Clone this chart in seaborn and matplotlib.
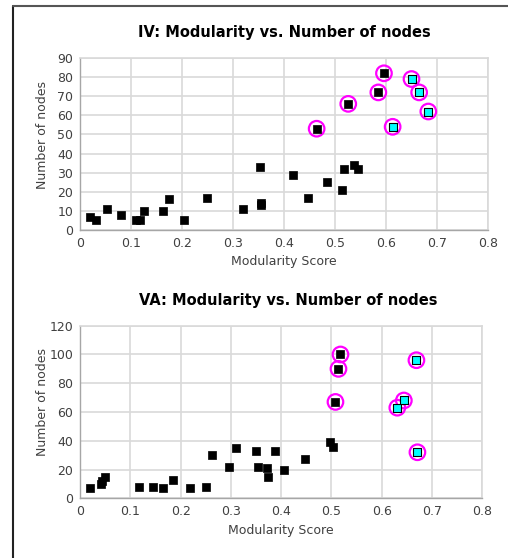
import matplotlib
matplotlib.use("Agg")
import matplotlib.pyplot as plt
import seaborn as sns
import pandas as pd
from matplotlib.lines import Line2D

# ---- IV data ----
iv_x = [0.020, 0.031, 0.052, 0.080, 0.110, 0.118, 0.125, 0.163, 0.174, 0.203,
        0.249, 0.320, 0.353, 0.355, 0.355, 0.418, 0.448, 0.485, 0.513, 0.518,
        0.538, 0.545]
iv_y = [7, 5, 11, 8, 5, 5, 10, 10, 16, 5,
        17, 11, 33, 14, 13, 29, 17, 25, 21, 32,
        34, 32]
iv_hi_x = [0.464, 0.526, 0.585, 0.596]
iv_hi_y = [53, 66, 72, 82]
iv_cy_x = [0.613, 0.650, 0.665, 0.683]
iv_cy_y = [54, 79, 72, 62]

# ---- VA data ----
va_x = [0.020, 0.041, 0.044, 0.049, 0.118, 0.146, 0.165, 0.184, 0.218, 0.250,
        0.262, 0.296, 0.311, 0.349, 0.353, 0.372, 0.373, 0.388, 0.406, 0.447,
        0.498, 0.504]
va_y = [7, 10, 12, 15, 8, 8, 7, 13, 7, 8,
        30, 22, 35, 33, 22, 21, 15, 33, 20, 27,
        39, 36]
va_hi_x = [0.508, 0.514, 0.518]
va_hi_y = [67, 90, 100]
va_cy_x = [0.631, 0.644, 0.669, 0.671]
va_cy_y = [63, 68, 96, 32]

titles = ["IV: Modularity vs. Number of nodes", "VA: Modularity vs. Number of nodes"]
xlabel = "Modularity Score"
ylabel = "Number of nodes"
x_ticks = [0, 0.1, 0.2, 0.3, 0.4, 0.5, 0.6, 0.7, 0.8]
x_tick_labels = ["0", "0.1", "0.2", "0.3", "0.4", "0.5", "0.6", "0.7", "0.8"]
iv_yticks = [0, 10, 20, 30, 40, 50, 60, 70, 80, 90]
va_yticks = [0, 20, 40, 60, 80, 100, 120]

sns.set_theme(style="white")
plt.rcParams['font.family'] = ['DejaVu Sans']

fig = plt.figure(figsize=(5.08, 5.58), dpi=100)
fig.patch.set_facecolor("white")

ax1 = fig.add_axes([80/508, 1-230/558, 408/508, 172/558])
ax2 = fig.add_axes([80/508, 1-498.3/558, 402.3/508, 172.6/558])

GRID = "#d9d9d9"
TXT = "#404040"

def draw(ax, x, y, hx, hy, cx, cy, yticks, title, title_xy, ylab_y):
    circ_x = hx + cx
    circ_y = hy + cy
    sns.scatterplot(x=circ_x, y=circ_y, ax=ax, marker="o", s=125,
                    facecolor="none", edgecolor="#ff00ff", linewidth=1.6, zorder=3)
    sns.scatterplot(x=x + hx, y=y + hy, ax=ax, marker="s", s=38,
                    color="black", edgecolor="black", linewidth=0.5, zorder=4)
    sns.scatterplot(x=cx, y=cy, ax=ax, marker="s", s=38,
                    color="#00ffff", edgecolor="black", linewidth=0.8, zorder=4)
    ax.set_xlim(0, 0.8)
    ax.set_ylim(0, yticks[-1])
    ax.set_xticks(x_ticks)
    ax.set_xticklabels(x_tick_labels)
    ax.set_yticks(yticks)
    ax.grid(True, color=GRID, linewidth=1.2)
    ax.set_axisbelow(True)
    for side in ["top", "right"]:
        ax.spines[side].set_color(GRID)
        ax.spines[side].set_linewidth(1.2)
    for side in ["left", "bottom"]:
        ax.spines[side].set_color("#a6a6a6")
        ax.spines[side].set_linewidth(1.0)
    ax.tick_params(axis="both", which="both", direction="out", length=3,
                   width=0.8, color="#a6a6a6", labelsize=9, labelcolor=TXT, pad=2)
    ax.set_xlabel(xlabel, fontsize=9, color=TXT, labelpad=4)
    ax.set_ylabel("")
    fig.text(42/508, 1-ylab_y/558, ylabel, rotation=90, ha="center", va="center",
             fontsize=9, color=TXT)
    fig.text(title_xy[0]/508, 1-title_xy[1]/558, title, ha="center", va="center",
             fontsize=10.5, fontweight="bold", color="black")

draw(ax1, iv_x, iv_y, iv_hi_x, iv_hi_y, iv_cy_x, iv_cy_y, iv_yticks, titles[0],
     (284, 33), 135)
draw(ax2, va_x, va_y, va_hi_x, va_hi_y, va_cy_x, va_cy_y, va_yticks, titles[1],
     (288, 301), 402)

# outer frame lines
fig.add_artist(Line2D([13/508, 13/508], [0, 1-6/558], transform=fig.transFigure,
                      color="#222222", linewidth=1.5))
fig.add_artist(Line2D([13/508, 1], [1-6/558, 1-6/558], transform=fig.transFigure,
                      color="#555555", linewidth=1.5))

fig.savefig("out.png", dpi=100, facecolor="white")
